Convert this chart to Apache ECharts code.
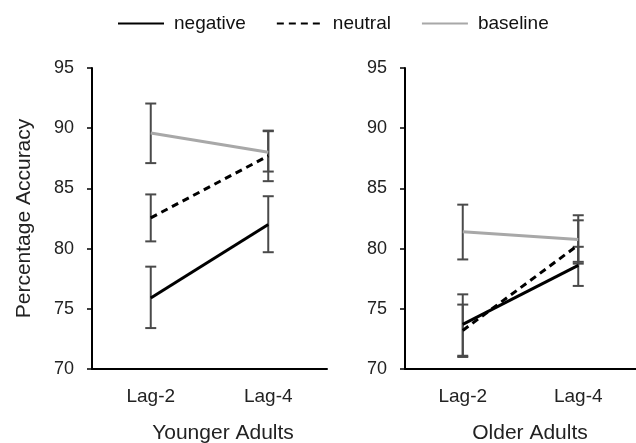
<!DOCTYPE html>
<html lang="en">

<head>
    <meta charset="utf-8">
    <title>Percentage Accuracy</title>
    <script src="https://cdn.jsdelivr.net/npm/echarts@6/dist/echarts.min.js"></script>
    <style>
        html, body { margin: 0; padding: 0; background: #fff; }
    </style>
</head>

<body>
    <div id="main" style="width:636px;height:443px;"></div>

    <script type="text/javascript">

        // categories and panel titles
        var lags = ['Lag-2', 'Lag-4'];
        var panels = ['Younger Adults', 'Older Adults'];
        var seriesNames = ['negative', 'neutral', 'baseline'];
        var yTicks = [70, 75, 80, 85, 90, 95];

        // younger adults: means and error bar ranges [low, high]
        var youngNegative = [75.9, 82.0];
        var youngNeutral = [82.55, 87.7];
        var youngBaseline = [89.6, 88.0];
        var youngNegativeErr = [[73.4, 78.5], [79.7, 84.35]];
        var youngNeutralErr = [[80.6, 84.5], [85.6, 89.8]];
        var youngBaselineErr = [[87.1, 92.05], [86.4, 89.75]];

        // older adults
        var oldNegative = [73.7, 78.6];
        var oldNeutral = [73.2, 80.3];
        var oldBaseline = [81.4, 80.75];
        var oldNegativeErr = [[71.0, 76.2], [76.9, 80.15]];
        var oldNeutralErr = [[71.1, 75.35], [78.9, 82.35]];
        var oldBaselineErr = [[79.1, 83.65], [78.75, 82.77]];

        var myChart = echarts.init(document.getElementById('main'));

        var font = 'Liberation Sans, Arial, sans-serif';

        // error bar with caps, drawn through the axis scales
        function errorBar(params, api) {
            var x = api.value(0);
            var lo = api.coord([x, api.value(1)]);
            var hi = api.coord([x, api.value(2)]);
            var w = 5.5;
            var style = { stroke: '#4a4a4a', lineWidth: 2 };
            return {
                type: 'group',
                children: [
                    { type: 'line', shape: { x1: lo[0], y1: lo[1], x2: hi[0], y2: hi[1] }, style: style },
                    { type: 'line', shape: { x1: lo[0] - w, y1: lo[1], x2: lo[0] + w, y2: lo[1] }, style: style },
                    { type: 'line', shape: { x1: hi[0] - w, y1: hi[1], x2: hi[0] + w, y2: hi[1] }, style: style }
                ]
            };
        }

        function errData(errs) {
            return errs.map(function (e, i) { return [i, e[0], e[1]]; });
        }

        var lineStyles = [
            { color: '#000', width: 3, type: 'solid' },
            { color: '#000', width: 3, type: [7, 5] },
            { color: '#a8a8a8', width: 3, type: 'solid' }
        ];

        var panelData = [
            { means: [youngNegative, youngNeutral, youngBaseline], errs: [youngNegativeErr, youngNeutralErr, youngBaselineErr] },
            { means: [oldNegative, oldNeutral, oldBaseline], errs: [oldNegativeErr, oldNeutralErr, oldBaselineErr] }
        ];

        var series = [];
        panelData.forEach(function (p, k) {
            p.errs.forEach(function (e) {
                series.push({
                    type: 'custom',
                    xAxisIndex: k,
                    yAxisIndex: k,
                    renderItem: errorBar,
                    data: errData(e),
                    silent: true,
                    z: 2
                });
            });
            p.means.forEach(function (m, i) {
                series.push({
                    name: seriesNames[i],
                    type: 'line',
                    xAxisIndex: k,
                    yAxisIndex: k,
                    data: m,
                    symbol: 'none',
                    lineStyle: lineStyles[i],
                    itemStyle: { color: lineStyles[i].color },
                    z: 3
                });
            });
        });

        function xAxis(k) {
            return {
                type: 'category',
                gridIndex: k,
                data: lags,
                boundaryGap: true,
                axisTick: { show: false },
                axisLine: { lineStyle: { color: '#000', width: 2 } },
                axisLabel: { color: '#222', fontSize: 19, fontFamily: font, margin: 18 }
            };
        }

        function yAxis(k) {
            return {
                type: 'value',
                gridIndex: k,
                min: yTicks[0],
                max: yTicks[yTicks.length - 1],
                interval: 5,
                splitLine: { show: false },
                axisLine: { show: true, lineStyle: { color: '#000', width: 2 } },
                axisTick: { show: true, length: 5, lineStyle: { color: '#000', width: 1.5 } },
                axisLabel: { color: '#222', fontSize: 18, fontFamily: font, margin: 18 },
                name: k === 0 ? 'Percentage Accuracy' : '',
                nameLocation: 'middle',
                nameGap: 57,
                nameTextStyle: { color: '#222', fontSize: 21, fontFamily: font }
            };
        }

        var titleStyle = { color: '#222', fontSize: 21, fontWeight: 'normal', fontFamily: font };

        myChart.setOption({
            animation: false,
            title: [
                { text: panels[0], left: 223, top: 423, padding: 0, textAlign: 'center', textStyle: titleStyle },
                { text: panels[1], left: 530, top: 423, padding: 0, textAlign: 'center', textStyle: titleStyle }
            ],
            legend: {
                data: seriesNames,
                top: 14,
                left: 117,
                padding: 0,
                itemWidth: 46,
                itemHeight: 10,
                itemGap: 30,
                itemStyle: { opacity: 0 },
                textStyle: { color: '#111', fontSize: 19, fontFamily: font, padding: [0, 0, 0, 5] }
            },
            grid: [
                { left: 92, top: 68, width: 235, height: 301 },
                { left: 405, top: 68, right: -4, height: 301 }
            ],
            xAxis: [xAxis(0), xAxis(1)],
            yAxis: [yAxis(0), yAxis(1)],
            series: series
        });

    </script>
</body>

</html>
